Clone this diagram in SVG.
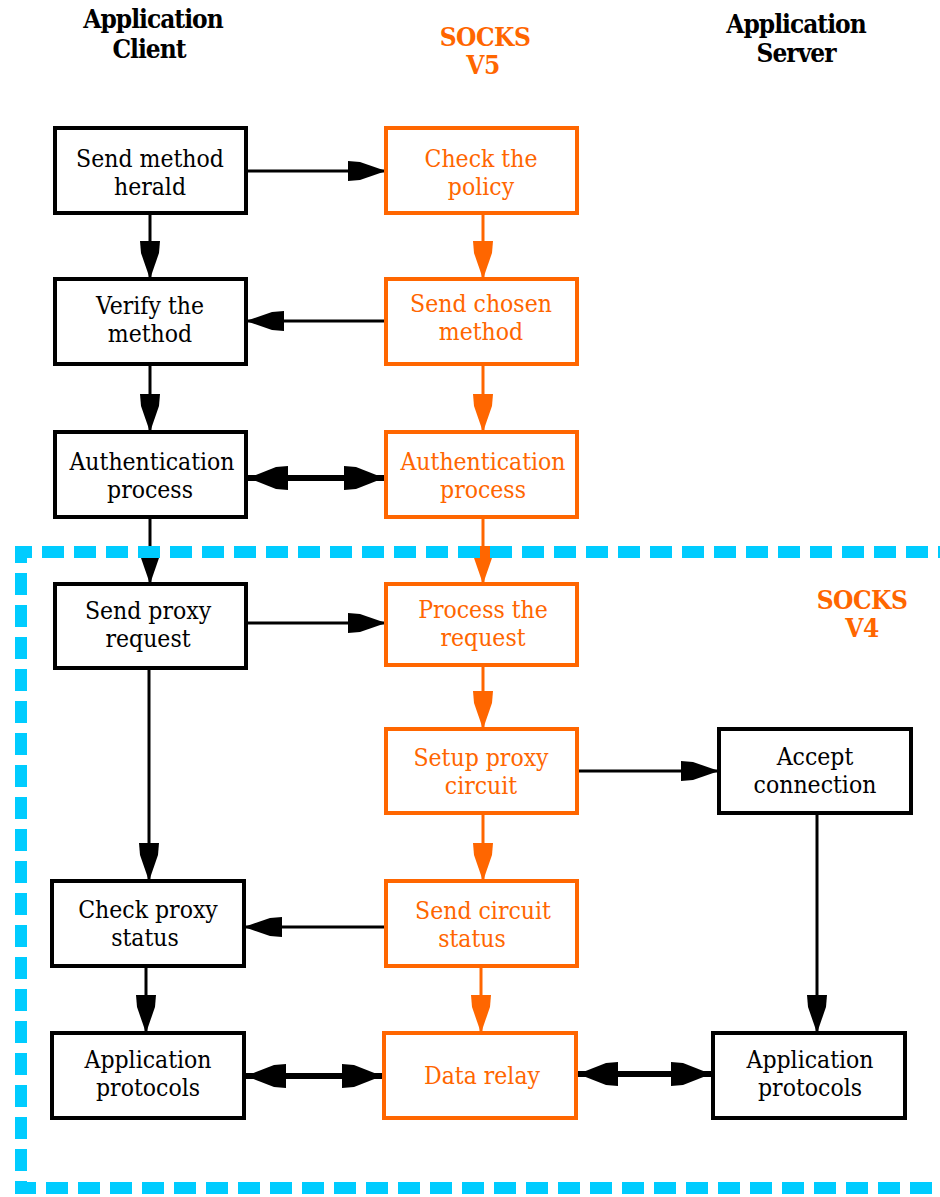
<svg xmlns="http://www.w3.org/2000/svg" width="940" height="1197" viewBox="0 0 940 1197">
<style>
.bg{fill:#fff}
.bx{fill:#fff;stroke:#000;stroke-width:4}
.bo{fill:#fff;stroke:#ff6600;stroke-width:4}
text{font-family:'DejaVu Serif Condensed','DejaVu Serif','Liberation Serif',serif;font-stretch:condensed;text-anchor:middle}
.t{font-size:24.5px;fill:#000}
.to{font-size:24.5px;fill:#ff6600}
.h{font-size:26px;font-weight:bold;fill:#000;letter-spacing:-1px}
.ho{font-size:26px;font-weight:bold;fill:#ff6600;letter-spacing:-0.5px}
.c{stroke:#000;stroke-width:3;fill:none}
.co{stroke:#ff6600;stroke-width:3;fill:none}
.cd{stroke:#000;stroke-width:6;fill:none}
.dash{fill:none;stroke:#00ccff;stroke-width:12;stroke-dasharray:22 10}
</style>
<defs>
<marker id="ab" viewBox="-42 -14 44 28" refX="0" refY="0" markerWidth="44" markerHeight="28" markerUnits="userSpaceOnUse" orient="auto-start-reverse">
<path d="M-38,-10 L-26,-9 L0,0 L-26,9 L-38,10 Z" fill="#000"/>
</marker>
<marker id="ao" viewBox="-42 -14 44 28" refX="0" refY="0" markerWidth="44" markerHeight="28" markerUnits="userSpaceOnUse" orient="auto-start-reverse">
<path d="M-38,-10 L-26,-9 L0,0 L-26,9 L-38,10 Z" fill="#ff6600"/>
</marker>
<marker id="ad" viewBox="-44 -14 46 28" refX="0" refY="0" markerWidth="46" markerHeight="28" markerUnits="userSpaceOnUse" orient="auto-start-reverse">
<path d="M-40,-12 L-28,-11 L0,0 L-28,11 L-40,12 Z" fill="#000"/>
</marker>
</defs>
<rect class="bg" x="0" y="0" width="940" height="1197"/>

<g id="headers">
<text class="h" x="153" y="28">Application</text>
<text class="h" x="149" y="58">Client</text>
<text class="ho" x="485" y="46">SOCKS</text>
<text class="ho" x="483" y="74">V5</text>
<text class="h" x="796" y="33">Application</text>
<text class="h" x="796" y="62">Server</text>
<text class="ho" x="862" y="609">SOCKS</text>
<text class="ho" x="862" y="637">V4</text>
</g>

<g id="connectors">
<line class="c" x1="246" y1="171" x2="386" y2="171" marker-end="url(#ab)"/>
<line class="c" x1="150" y1="213" x2="150" y2="279" marker-end="url(#ab)"/>
<line class="co" x1="483" y1="213" x2="483" y2="279" marker-end="url(#ao)"/>
<line class="c" x1="386" y1="321" x2="246" y2="321" marker-end="url(#ab)"/>
<line class="c" x1="150" y1="364" x2="150" y2="432" marker-end="url(#ab)"/>
<line class="co" x1="483" y1="364" x2="483" y2="432" marker-end="url(#ao)"/>
<line class="cd" x1="248" y1="478" x2="384" y2="478" marker-start="url(#ad)" marker-end="url(#ad)"/>
<line class="c" x1="150" y1="517" x2="150" y2="584" marker-end="url(#ab)"/>
<line class="co" x1="483" y1="517" x2="483" y2="584" marker-end="url(#ao)"/>
<line class="c" x1="246" y1="623" x2="386" y2="623" marker-end="url(#ab)"/>
<line class="co" x1="483" y1="665" x2="483" y2="729" marker-end="url(#ao)"/>
<line class="c" x1="577" y1="771" x2="719" y2="771" marker-end="url(#ab)"/>
<line class="c" x1="149" y1="668" x2="149" y2="881" marker-end="url(#ab)"/>
<line class="co" x1="483" y1="813" x2="483" y2="881" marker-end="url(#ao)"/>
<line class="c" x1="386" y1="927" x2="244" y2="927" marker-end="url(#ab)"/>
<line class="c" x1="146" y1="966" x2="146" y2="1033" marker-end="url(#ab)"/>
<line class="co" x1="481" y1="966" x2="481" y2="1033" marker-end="url(#ao)"/>
<line class="c" x1="817" y1="813" x2="817" y2="1033" marker-end="url(#ab)"/>
<line class="cd" x1="246" y1="1076" x2="382" y2="1076" marker-start="url(#ad)" marker-end="url(#ad)"/>
<line class="cd" x1="578" y1="1074" x2="711" y2="1074" marker-start="url(#ad)" marker-end="url(#ad)"/>
</g>

<g id="v4-region">
<path class="dash" d="M960,552 L21,552 L21,1188 L960,1188"/>
</g>

<g id="send-method-herald">
<rect class="bx" x="55" y="128" width="191" height="85"/>
<text class="t" x="150" y="167">Send method</text>
<text class="t" x="150" y="195">herald</text>
</g>
<g id="check-policy">
<rect class="bo" x="386" y="128" width="191" height="85"/>
<text class="to" x="481" y="167">Check the</text>
<text class="to" x="481" y="195">policy</text>
</g>
<g id="verify-method">
<rect class="bx" x="55" y="279" width="191" height="85"/>
<text class="t" x="150" y="314">Verify the</text>
<text class="t" x="150" y="342">method</text>
</g>
<g id="send-chosen-method">
<rect class="bo" x="386" y="279" width="191" height="85"/>
<text class="to" x="481" y="312">Send chosen</text>
<text class="to" x="481" y="340">method</text>
</g>
<g id="auth-client">
<rect class="bx" x="55" y="432" width="191" height="85"/>
<text class="t" x="152" y="470">Authentication</text>
<text class="t" x="150" y="498">process</text>
</g>
<g id="auth-socks">
<rect class="bo" x="386" y="432" width="191" height="85"/>
<text class="to" x="483" y="470">Authentication</text>
<text class="to" x="483" y="498">process</text>
</g>
<g id="send-proxy-request">
<rect class="bx" x="55" y="584" width="191" height="84"/>
<text class="t" x="148" y="619">Send proxy</text>
<text class="t" x="148" y="647">request</text>
</g>
<g id="process-request">
<rect class="bo" x="386" y="584" width="191" height="81"/>
<text class="to" x="483" y="618">Process the</text>
<text class="to" x="483" y="646">request</text>
</g>
<g id="setup-proxy-circuit">
<rect class="bo" x="386" y="729" width="191" height="84"/>
<text class="to" x="481" y="766">Setup proxy</text>
<text class="to" x="481" y="794">circuit</text>
</g>
<g id="accept-connection">
<rect class="bx" x="719" y="729" width="192" height="84"/>
<text class="t" x="815" y="765">Accept</text>
<text class="t" x="815" y="793">connection</text>
</g>
<g id="check-proxy-status">
<rect class="bx" x="52" y="881" width="192" height="85"/>
<text class="t" x="148" y="918">Check proxy</text>
<text class="t" x="145" y="946">status</text>
</g>
<g id="send-circuit-status">
<rect class="bo" x="386" y="881" width="191" height="85"/>
<text class="to" x="483" y="919">Send circuit</text>
<text class="to" x="472" y="947">status</text>
</g>
<g id="app-protocols-client">
<rect class="bx" x="52" y="1033" width="192" height="85"/>
<text class="t" x="148" y="1068">Application</text>
<text class="t" x="148" y="1096">protocols</text>
</g>
<g id="data-relay">
<rect class="bo" x="384" y="1033" width="192" height="85"/>
<text class="to" x="482" y="1084">Data relay</text>
</g>
<g id="app-protocols-server">
<rect class="bx" x="713" y="1033" width="192" height="85"/>
<text class="t" x="810" y="1068">Application</text>
<text class="t" x="810" y="1096">protocols</text>
</g>
</svg>
